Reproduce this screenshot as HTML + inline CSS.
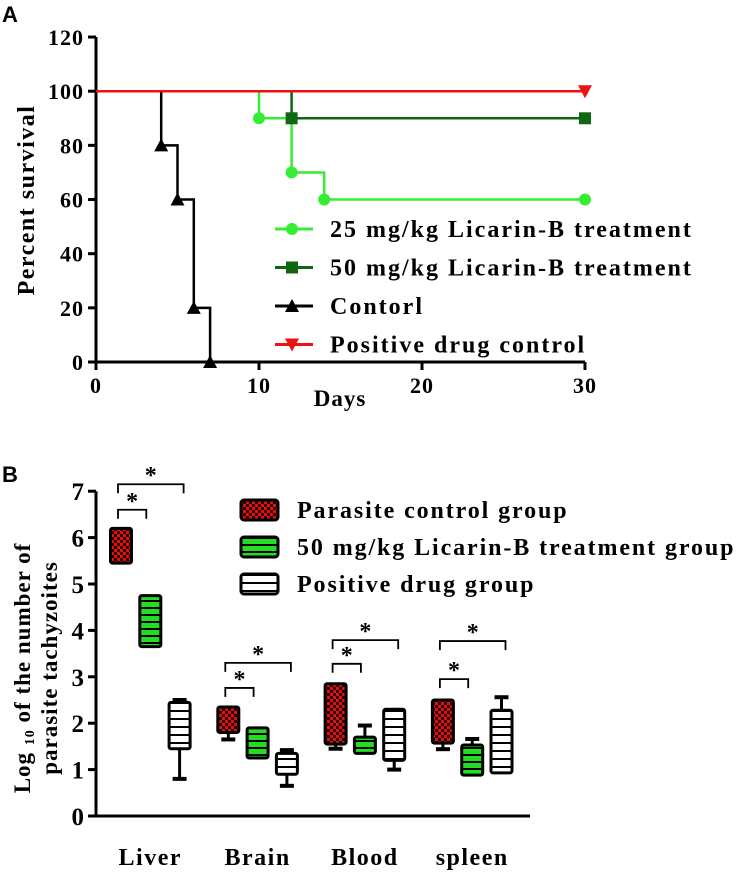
<!DOCTYPE html>
<html><head><meta charset="utf-8"><style>
body{margin:0;background:#fff;}
svg{display:block;font-family:"Liberation Serif",serif;font-weight:bold;}
</style></head><body>
<svg id="s" width="739" height="873" viewBox="0 0 739 873">
<defs>
<pattern id="chk" width="6" height="6" patternUnits="userSpaceOnUse"><rect width="6" height="6" fill="#e01010"/><rect width="3" height="3" fill="#2a0000"/><rect x="3" y="3" width="3" height="3" fill="#2a0000"/></pattern>
<pattern id="grn" width="6" height="7" patternUnits="userSpaceOnUse"><rect width="6" height="7" fill="#22dd22"/><rect y="5" width="6" height="2" fill="#000"/></pattern>
<pattern id="wht" width="6" height="8" patternUnits="userSpaceOnUse"><rect width="6" height="8" fill="#fff"/><rect y="6" width="6" height="2" fill="#000"/></pattern>
</defs>
<text x="2" y="22" font-family="Liberation Sans" font-size="22">A</text>
<text x="2" y="482" font-family="Liberation Sans" font-size="22">B</text>
<g id="a"></g><g id="b"></g>
</svg>
<script>
const NS="http://www.w3.org/2000/svg";
function mk(p,t,at){const e=document.createElementNS(NS,t);for(const k in at)e.setAttribute(k,at[k]);p.appendChild(e);return e;}
// ---- Panel A data ----
const xTicksA=[0,10,20,30];
const yTicksA=[0,20,40,60,80,100,120];
const ctrlDays=[0,4,5,6,7];const ctrlVals=[100,80,60,20,0];
const mg25Days=[0,10,12,14,30];const mg25Vals=[100,90,70,60,60];
const mg50Days=[0,12,30];const mg50Vals=[100,90,90];
const posDays=[0,30];const posVals=[100,100];
const A=document.getElementById('a');
const xA=d=>96+d*16.3, yA=v=>362-v*2.708;
mk(A,'line',{x1:96,y1:yA(0),x2:xA(30),y2:yA(0),stroke:'#000','stroke-width':3,});
mk(A,'line',{x1:96,y1:yA(0),x2:96,y2:yA(120),stroke:'#000','stroke-width':3,});
xTicksA.forEach(t=>{mk(A,'line',{x1:xA(t),y1:362,x2:xA(t),y2:370,stroke:'#000','stroke-width':3});
 const e=mk(A,'text',{x:xA(t),y:393,'text-anchor':'middle','font-size':22,'letter-spacing':1});e.textContent=t;
 
 });
yTicksA.forEach(t=>{mk(A,'line',{x1:88,y1:yA(t),x2:96,y2:yA(t),stroke:'#000','stroke-width':3});
 const e=mk(A,'text',{x:84,y:yA(t)+8,'text-anchor':'end','font-size':22,'letter-spacing':1});e.textContent=t;
 
 });
function step(days,vals,col,name){let d=`M${xA(days[0])},${yA(vals[0])}`;
 for(let i=1;i<days.length;i++){d+=`H${xA(days[i])}V${yA(vals[i])}`;}
 const p=mk(A,'path',{d:d,fill:'none',stroke:col,'stroke-width':2.5});
 
 }
function marker(g,x,y,type,col){
 if(type=='c')mk(g,'circle',{cx:x,cy:y,r:6,fill:col});
 else if(type=='s')mk(g,'rect',{x:x-6,y:y-6,width:12,height:12,fill:col});
 else if(type=='t')mk(g,'path',{d:`M${x-7},${y+6}L${x+7},${y+6}L${x},${y-7}Z`,fill:col});
 else mk(g,'path',{d:`M${x-7},${y-6}L${x+7},${y-6}L${x},${y+7}Z`,fill:col});}
step(mg25Days,mg25Vals,'#33ee33','line-25mg');
step(mg50Days,mg50Vals,'#116611','line-50mg');
step(ctrlDays,ctrlVals,'#000','line-control');
step(posDays,posVals,'#ee1111','line-positive');
for(let i=1;i<mg25Days.length;i++)marker(A,xA(mg25Days[i]),yA(mg25Vals[i]),'c','#33ee33');
for(let i=1;i<mg50Days.length;i++)marker(A,xA(mg50Days[i]),yA(mg50Vals[i]),'s','#116611');
for(let i=1;i<ctrlDays.length;i++)marker(A,xA(ctrlDays[i]),yA(ctrlVals[i]),'t','#000');
marker(A,xA(30),yA(100),'v','#ee1111');
const legA=[['25 mg/kg Licarin-B  treatment','#33ee33','c'],['50 mg/kg Licarin-B  treatment','#116611','s'],['Contorl','#000','t'],['Positive drug control','#ee1111','v']];
legA.forEach((l,i)=>{const y=229+i*38.5;const g=mk(A,'g',{});
 
 
 mk(g,'line',{x1:275,y1:y,x2:313,y2:y,stroke:l[1],'stroke-width':3});marker(g,292,y,l[2],l[1]);
 const t=mk(g,'text',{x:330,y:y+8,'font-size':24,'letter-spacing':2,'xml:space':'preserve'});t.textContent=l[0];});
let t=mk(A,'text',{x:0,y:0,transform:'translate(34,200) rotate(-90)','text-anchor':'middle','font-size':24,'letter-spacing':1.5});t.textContent='Percent survival';

t=mk(A,'text',{x:340,y:406,'text-anchor':'middle','font-size':23,'letter-spacing':1});t.textContent='Days';


// ---- Panel B data ----
const organs=['Liver','Brain','Blood','spleen'];
const yTicksB=[0,1,2,3,4,5,6,7];
const boxMin=[[5.45,3.65,0.8],[1.65,1.25,0.65],[1.45,1.35,1.0],[1.44,0.88,0.93]];
const boxQ1=[[5.45,3.65,1.45],[1.8,1.25,0.9],[1.55,1.35,1.2],[1.57,0.88,0.93]];
const boxQ3=[[6.2,4.75,2.45],[2.35,1.9,1.35],[2.85,1.7,2.3],[2.5,1.53,2.28]];
const boxMax=[[6.2,4.75,2.5],[2.35,1.9,1.42],[2.85,1.95,2.3],[2.5,1.66,2.56]];
const brackets=[[[0,1,6.6],[0,2,7.15]],[[0,1,2.76],[0,2,3.3]],[[0,1,3.28],[0,2,3.79]],[[0,1,2.95],[0,2,3.77]]];
const B=document.getElementById('b');
const yB=v=>816-v*46.4;const gx=(g,k)=>121+g*107.3+k*29.3;
mk(B,'line',{x1:96,y1:816,x2:530,y2:816,stroke:'#000','stroke-width':3,});
mk(B,'line',{x1:96,y1:816,x2:96,y2:yB(7),stroke:'#000','stroke-width':3,});
yTicksB.forEach(v=>{mk(B,'line',{x1:88,y1:yB(v),x2:96,y2:yB(v),stroke:'#000','stroke-width':3});
 const e=mk(B,'text',{x:84,y:yB(v)+9,'text-anchor':'end','font-size':25});e.textContent=v;
 });
organs.forEach((o,i)=>{const e=mk(B,'text',{x:gx(i,1),y:865,'text-anchor':'middle','font-size':24,'letter-spacing':1.5});e.textContent=o;
 });
const fills=['url(#chk)','url(#grn)','url(#wht)'];
organs.forEach((o,g)=>{for(let k=0;k<3;k++){const cx=gx(g,k);const grp=mk(B,'g',{});
 
 
 mk(grp,'line',{x1:cx,y1:yB(boxMin[g][k]),x2:cx,y2:yB(boxMax[g][k]),stroke:'#000','stroke-width':3});
 if(boxMin[g][k]<boxQ1[g][k])mk(grp,'line',{x1:cx-7,y1:yB(boxMin[g][k]),x2:cx+7,y2:yB(boxMin[g][k]),stroke:'#000','stroke-width':4});
 if(boxMax[g][k]>boxQ3[g][k])mk(grp,'line',{x1:cx-7,y1:yB(boxMax[g][k]),x2:cx+7,y2:yB(boxMax[g][k]),stroke:'#000','stroke-width':4});
 mk(grp,'rect',{x:cx-10.5,y:yB(boxQ3[g][k]),width:21,height:yB(boxQ1[g][k])-yB(boxQ3[g][k]),rx:2,fill:fills[k],stroke:'#000','stroke-width':3});}
 brackets[g].forEach(br=>{const x1=gx(g,br[0])-3,x2=gx(g,br[1])+(br[1]==1?-4:4),y=yB(br[2]);const bg=mk(B,'g',{});
  
  
  mk(bg,'path',{d:`M${x1},${y+9}V${y}H${x2}V${y+9}`,fill:'none',stroke:'#000','stroke-width':1.8});
  const s=mk(bg,'text',{x:(x1+x2)/2,y:y-1,'text-anchor':'middle','font-size':24});s.textContent='*';});});
const legB=['Parasite control group','50 mg/kg Licarin-B treatment group','Positive drug group'];
legB.forEach((l,i)=>{const y=510+i*37;const g=mk(B,'g',{});
 
 
 mk(g,'rect',{x:241,y:y-10,width:37,height:20,rx:3,fill:fills[i],stroke:'#000','stroke-width':3});
 const e=mk(g,'text',{x:297,y:y+8,'font-size':24,'letter-spacing':1.9});e.textContent=l;});
t=mk(B,'text',{x:0,y:0,transform:'translate(30,668) rotate(-90)','text-anchor':'middle','font-size':23,'letter-spacing':1});
t.innerHTML='Log <tspan font-size="14" dy="4">10</tspan><tspan dy="-4"> of the number of</tspan>';

t=mk(B,'text',{x:0,y:0,transform:'translate(57,668) rotate(-90)','text-anchor':'middle','font-size':23,'letter-spacing':1});t.textContent='parasite tachyzoites';

</script>
</body></html>
